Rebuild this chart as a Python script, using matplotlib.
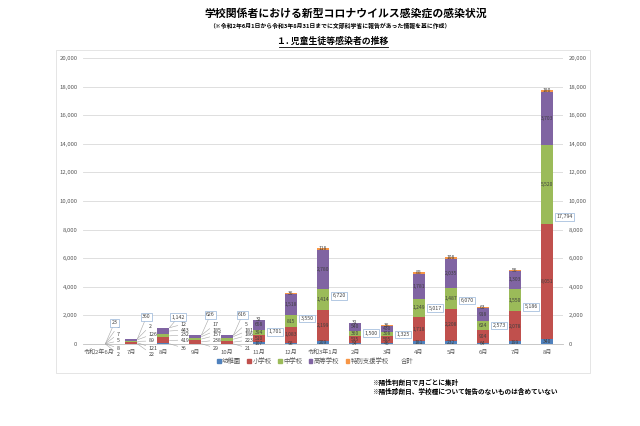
import matplotlib
matplotlib.use('Agg')
import matplotlib.pyplot as plt
from matplotlib.patches import Rectangle
from matplotlib.transforms import blended_transform_factory
from matplotlib.lines import Line2D
import numpy as np

plt.rcParams['font.family'] = ['Noto Sans CJK JP', 'DejaVu Sans']

# ---------------- data ----------------
months = ['令和2年6月', '7月', '8月', '9月', '10月', '11月', '12月', '令和3年1月',
          '2月', '3月', '4月', '5月', '6月', '7月', '8月']
series_names = ['幼稚園', '小学校', '中学校', '高等学校', '特別支援学校']
kindergarten = [2, 22, 36, 29, 21, 107, 98, 209, 54, 46, 181, 232, 64, 199, 340]
elementary = [8, 121, 419, 238, 223, 510, 1083, 2199, 515, 505, 1718, 2208, 904, 2078, 8051]
junior_high = [5, 89, 232, 157, 186, 394, 815, 1414, 360, 308, 1249, 1487, 624, 1550, 5520]
high_school = [7, 126, 443, 185, 181, 658, 1518, 2780, 540, 430, 1781, 2035, 918, 1303, 3703]
special_needs = [1, 2, 12, 17, 5, 32, 36, 118, 31, 36, 88, 108, 63, 56, 180]
y_ticks = [0, 2000, 4000, 6000, 8000, 10000, 12000, 14000, 16000, 18000, 20000]

colors = ['#4F81BD', '#C0504D', '#9BBB59', '#8064A2', '#F79646']
series = [kindergarten, elementary, junior_high, high_school, special_needs]

W, H = 640, 426
fig = plt.figure(figsize=(W / 100, H / 100), dpi=100)

# chart area frame
fig.add_artist(Rectangle((56 / W, 1 - 373 / H), (590 - 56) / W, (373 - 50) / H,
                         transform=fig.transFigure, fill=False, ec='#E0E0E0', lw=0.6))

ax_l, ax_r, ax_b, ax_t = 83, 563, 344, 58
ax = fig.add_axes([ax_l / W, 1 - ax_b / H, (ax_r - ax_l) / W, (ax_b - ax_t) / H])

x = np.arange(len(months))
bw = 0.4
bottom = np.zeros(len(months))
bars = []
for vals, col, name in zip(series, colors, series_names):
    v = np.array(vals, dtype=float)
    ax.bar(x, v, bw, bottom=bottom, color=col, label=name, zorder=3)
    bars.append((v, bottom.copy()))
    bottom = bottom + v
totals = bottom

ax.set_xlim(-0.5, len(months) - 0.5)
ax.set_ylim(0, 20000)
ax.set_yticks(y_ticks)
ax.set_yticklabels([f'{t:,}' for t in y_ticks])
ax.grid(axis='y', color='#D9D9D9', lw=0.6, zorder=0)
for s in ['top', 'right', 'left']:
    ax.spines[s].set_visible(False)
ax.spines['bottom'].set_color('#BFBFBF')
ax.spines['bottom'].set_linewidth(0.6)
ax.tick_params(axis='y', length=0, labelsize=4.3, labelcolor='#595959', pad=4)
ax.set_xticks(x)
ax.set_xticklabels(months)
ax.tick_params(axis='x', length=0, labelsize=4.3, labelcolor='#595959', pad=4)

ax2 = ax.twinx()
ax2.set_ylim(0, 20000)
ax2.set_yticks(y_ticks)
ax2.set_yticklabels([f'{t:,}' for t in y_ticks])
for s in ax2.spines.values():
    s.set_visible(False)
ax2.tick_params(axis='y', length=0, labelsize=4.3, labelcolor='#595959', pad=4)

label_color = '#404040'
box = dict(boxstyle='square,pad=0.25', fc='white', ec='#95B3D7', lw=0.5)
tr = blended_transform_factory(ax.transData, fig.transFigure)

def fy(p):
    return 1 - p / H

# callout label pixel rows for small months (series order: 幼,小,中,高,特)
rows_a = [354, 348, 341, 334, 326]
rows_b = [348, 340, 335, 330, 324]
total_rows = [323, 317, 317, 315, 315]
small = 5
for i in range(len(months)):
    if i < small:
        rows = rows_a if i < 2 else rows_b
        for k, (v, b0) in enumerate(bars):
            yv = b0[i] + v[i] / 2
            ax.annotate(f'{int(v[i]):,}', xy=(x[i] + bw / 2, yv), xycoords='data',
                        xytext=(x[i] + 0.55, fy(rows[k])), textcoords=tr,
                        ha='left', va='center', fontsize=3.8, color=label_color,
                        annotation_clip=False,
                        arrowprops=dict(arrowstyle='-', color='#A6A6A6', lw=0.4,
                                        shrinkA=0, shrinkB=0))
        ax.annotate(f'{int(totals[i]):,}', xy=(x[i] + bw / 2, totals[i]), xycoords='data',
                    xytext=(x[i] + 0.48, fy(total_rows[i])), textcoords=tr,
                    ha='center', va='center', fontsize=3.8, color=label_color,
                    bbox=box, annotation_clip=False,
                    arrowprops=dict(arrowstyle='-', color='#A6A6A6', lw=0.4,
                                    shrinkA=0, shrinkB=0))
    else:
        for k, (v, b0) in enumerate(bars):
            ax.text(x[i], b0[i] + v[i] / 2, f'{int(v[i]):,}', ha='center', va='center',
                    fontsize=3.6, color=label_color, zorder=5)
        ax.text(x[i] + 0.3, totals[i] / 2, f'{int(totals[i]):,}', ha='left', va='center',
                fontsize=3.8, color=label_color, bbox=box, zorder=6)

# legend
handles = [Rectangle((0, 0), 1, 1, color=c) for c in colors]
handles.append(Rectangle((0, 0), 1, 1, fill=False, ec='none'))
fig.legend(handles, series_names + ['合計'], loc='center',
           bbox_to_anchor=(315 / W, fy(361)), ncol=6, frameon=False,
           fontsize=4.6, handlelength=0.6, handleheight=0.6, handletextpad=0.2,
           columnspacing=1.0, labelcolor='#595959')

# titles
fig.text(346 / W, fy(13), '学校関係者における新型コロナウイルス感染症の感染状況',
         ha='center', va='center', fontsize=7.8, fontweight='bold', color='#000000')
fig.text(330 / W, fy(26), '（※令和2年6月1日から令和3年8月31日までに文部科学省に報告があった情報を基に作成）',
         ha='center', va='center', fontsize=4.2, fontweight='bold', color='#000000')
fig.text(333 / W, fy(41), '１. 児童生徒等感染者の推移',
         ha='center', va='center', fontsize=6.4, fontweight='bold', color='#000000')
fig.add_artist(Line2D([279 / W, 388 / W], [fy(47), fy(47)], transform=fig.transFigure,
                      color='black', lw=0.6))

fig.text(372 / W, fy(382), '※陽性判断日で月ごとに集計', ha='left', va='center',
         fontsize=4.8, fontweight='bold', color='#000000')
fig.text(372 / W, fy(391), '※陽性診断日、学校種について報告のないものは含めていない', ha='left', va='center',
         fontsize=4.8, fontweight='bold', color='#000000')

fig.savefig('out.png', dpi=100)
